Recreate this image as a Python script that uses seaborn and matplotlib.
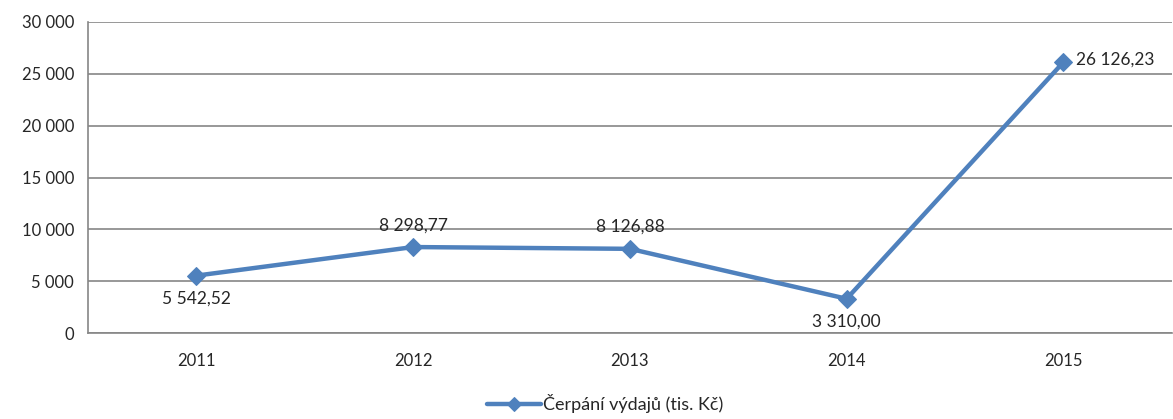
import numpy as np
import pandas as pd
import seaborn as sns
import matplotlib.pyplot as plt
from matplotlib.ticker import FuncFormatter, FixedLocator

# data
roky = ['2011', '2012', '2013', '2014', '2015']
cerpani = [5542.52, 8298.77, 8126.88, 3310.00, 26126.23]
nazev = 'Čerpání výdajů (tis. Kč)'

df = pd.DataFrame({'rok': roky, 'hodnota': cerpani})

sns.set_style('white')
plt.rcParams['font.family'] = ['Lato', 'DejaVu Sans']

barva = '#4F81BD'
seda = '#868686'

fig = plt.figure(figsize=(11.73, 4.19), dpi=100)
ax = fig.add_axes([0.075, 0.205, 0.924, 0.7425])

sns.lineplot(data=df, x='rok', y='hodnota', ax=ax, color=barva, linewidth=3.2,
             marker='D', markersize=9, markeredgecolor=barva, label=nazev,
             legend=False, sort=False)

def cz(v, dec=0):
    s = f'{v:,.{dec}f}'
    return s.replace(',', ' ').replace('.', ',')

# popisky hodnot
pozice = ['below', 'above', 'above', 'below', 'right']
for i, (v, kde) in enumerate(zip(cerpani, pozice)):
    if kde == 'below':
        ax.annotate(cz(v, 2), (i, v), xytext=(0, -11), textcoords='offset points',
                    ha='center', va='top', fontsize=12.5)
    elif kde == 'above':
        ax.annotate(cz(v, 2), (i, v), xytext=(0, 10), textcoords='offset points',
                    ha='center', va='bottom', fontsize=12.5)
    else:
        ax.annotate(cz(v, 2), (i, v), xytext=(9, 2), textcoords='offset points',
                    ha='left', va='center', fontsize=12.5)

ax.set_ylim(0, 30000)
ax.set_xlim(-0.5, 4.5)
ax.set_yticks(np.arange(0, 30001, 5000))
ax.yaxis.set_major_formatter(FuncFormatter(lambda v, p: cz(v)))
ax.grid(axis='y', color=seda, linewidth=1.2)
ax.set_axisbelow(True)

ax.xaxis.set_minor_locator(FixedLocator(np.arange(-0.5, 5, 1)))
ax.tick_params(axis='x', which='major', length=0, pad=14)
ax.tick_params(axis='x', which='minor', length=6, color=seda, width=1.2, direction='out')
ax.tick_params(axis='y', length=6, color=seda, width=1.2, direction='out', labelsize=12, pad=4)
plt.setp(ax.get_xticklabels(), fontsize=12)
ax.set_xlabel('')
ax.set_ylabel('')

for s in ['top', 'right']:
    ax.spines[s].set_visible(False)
for s in ['left', 'bottom']:
    ax.spines[s].set_color(seda)
    ax.spines[s].set_linewidth(1.2)

h, l = ax.get_legend_handles_labels()
fig.legend(h, l, loc='lower center', bbox_to_anchor=(0.516, -0.025), frameon=False,
           fontsize=13, handlelength=3.0, handletextpad=0.1, markerscale=0.75)

fig.savefig('out.png', dpi=100)
